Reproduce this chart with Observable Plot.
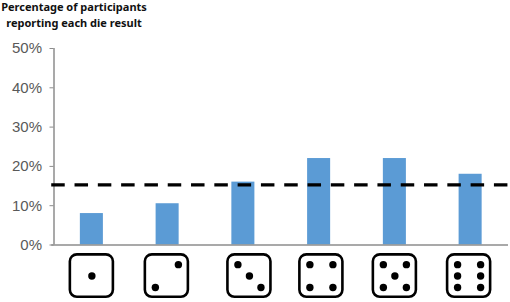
<!DOCTYPE html>
<html>
<head>
<meta charset="utf-8">
<script src="https://cdn.jsdelivr.net/npm/d3@7"></script>
<script src="https://cdn.jsdelivr.net/npm/@observablehq/plot@0.6"></script>
<style>
html,body{margin:0;padding:0;background:#fff;overflow:hidden}
#wrap{position:relative;width:510px;height:302px}
#title{position:absolute;left:0;top:-1px;width:148px;text-align:center;font:bold 11px/16px "Noto Sans",sans-serif;color:#111;white-space:nowrap}
</style>
</head>
<body>
<div id="wrap"><div id="title">Percentage of participants<br>reporting each die result</div></div>
<script>
const results = [1, 2, 3, 4, 5, 6];
const percentages = [8, 10.5, 16, 22, 22, 18];
const chanceLevel = 15.3;
const dieCenters = [1, 1.99, 3.08, 4.03, 5, 5.98];
const pipColumns = {1:[0], 2:[1,-1], 3:[-1,0,1], 4:[-1,1,-1,1], 5:[-1,1,0,-1,1], 6:[-1,1,-1,1,-1,1]};
const pipRows = {1:[0], 2:[1,-1], 3:[1,0,-1], 4:[1,1,-1,-1], 5:[1,1,0,-1,-1], 6:[1,1,0,0,-1,-1]};

const bars = results.map((r, i) => ({x1: r - 0.152, x2: r + 0.152, y: percentages[i]}));
const dice = results.map((r, i) => ({x1: dieCenters[i] - 0.284, x2: dieCenters[i] + 0.284, y1: -2.5, y2: -13.3}));
const pips = results.flatMap((r, i) => pipColumns[r].map((c, k) => ({
  x: dieCenters[i] + c * 0.152,
  y: -7.9 + pipRows[r][k] * 2.9
})));

const chart = Plot.plot({
  width: 510,
  height: 302,
  marginTop: 48,
  marginBottom: 57.5,
  marginLeft: 53.5,
  marginRight: 2,
  style: {background: "transparent", overflow: "visible", fontFamily: "'Liberation Sans', Arial, sans-serif"},
  x: {domain: [0.5, 6.5], axis: null},
  y: {domain: [0, 50]},
  marks: [
    Plot.rectY(bars, {x1: "x1", x2: "x2", y: "y", fill: "#5b9bd5"}),
    Plot.ruleX([0.5], {y1: 0, y2: 50, stroke: "#8c8c8c", strokeWidth: 1.5}),
    Plot.ruleY([0], {x1: 0.47, x2: 6.5, stroke: "#8c8c8c", strokeWidth: 1.5}),
    Plot.axisY({
      ticks: [0, 10, 20, 30, 40, 50],
      tickFormat: d => d + "%",
      label: null,
      tickSize: 4,
      tickPadding: 8,
      stroke: "#8c8c8c",
      fill: "#595959",
      fontSize: 15,
      fontFamily: "Liberation Sans"
    }),
    Plot.ruleY([chanceLevel], {x1: 0.47, x2: 6.53, stroke: "#000", strokeWidth: 3.2, strokeDasharray: "13.5,9.8"}),
    Plot.rect(dice, {x1: "x1", x2: "x2", y1: "y1", y2: "y2", fill: "#fff", stroke: "#000", strokeWidth: 2.6, rx: 7, clip: false}),
    Plot.dot(pips, {x: "x", y: "y", r: 3.7, fill: "#000", stroke: null})
  ]
});
document.getElementById("wrap").appendChild(chart);
</script>
</body>
</html>
